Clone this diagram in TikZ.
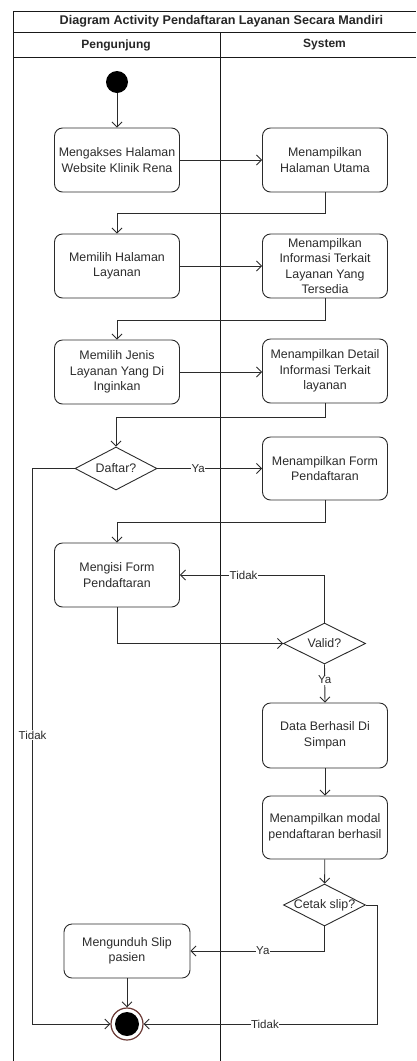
\documentclass[tikz,border=0pt]{standalone}
\usepackage{fontspec}
\setmainfont{Liberation Sans}
\usetikzlibrary{arrows.meta,shapes.geometric,calc}

\definecolor{ink}{HTML}{2B2B2B}
\definecolor{ring}{HTML}{6B3A36}

\begin{document}
\begin{tikzpicture}[x=1pt,y=-1pt,
  every node/.style={text=ink},
  frame/.style={draw=black!90,line width=0.9pt},
  act/.style={draw=ink,line width=0.9pt,rounded corners=8pt,
    minimum width=125pt,minimum height=64pt,inner sep=0pt,align=center,
    font=\fontsize{12.4}{15.5}\selectfont},
  dec/.style={diamond,draw=ink,line width=0.9pt,minimum width=82pt,
    minimum height=43pt,inner sep=0pt},
  dectext/.style={font=\fontsize{12.4}{14}\selectfont,text=ink},
  flow/.style={draw=ink,line width=0.9pt,-{Straight Barb[length=5pt,width=10pt]}},
  elabel/.style={fill=white,inner sep=0.5pt,font=\fontsize{11.5}{13}\selectfont},
  lanehead/.style={font=\bfseries\fontsize{12}{14}\selectfont,text=black!85}]

\useasboundingbox (0,0) rectangle (416,1061);

% swimlane frame
\draw[frame] (13,1061) -- (13,11) -- (416,11);
\draw[frame] (13,32.5) -- (416,32.5);
\draw[frame] (13,57) -- (416,57);
\draw[frame] (220,32.5) -- (220,1061);
\node[lanehead,font=\bfseries\fontsize{12.6}{14}\selectfont] (title) at (221.5,21) {Diagram Activity Pendaftaran Layanan Secara Mandiri};
\node[lanehead] (lane1) at (116,45) {Pengunjung};
\node[lanehead] (lane2) at (324.5,45) {System};

% start and end states
\node[circle,fill=black,minimum size=22pt,inner sep=0pt] (start) at (117,82) {};
\node[circle,draw=ring,line width=1.2pt,fill=white,minimum size=32pt,inner sep=0pt] (fin) at (127,1024) {};
\fill[black] (fin.center) circle (12pt);

% activities: visitor lane
\node[act] (a1) at (117,160) {Mengakses Halaman\\Website Klinik Rena};
\node[act] (a2) at (117,266) {Memilih Halaman\\Layanan};
\node[act] (a3) at (117,372) {Memilih Jenis\\Layanan Yang Di\\Inginkan};
\node[act] (a4) at (117,575) {Mengisi Form\\Pendaftaran};
\node[act,minimum width=126pt,minimum height=54pt] (a5) at (127,951) {Mengunduh Slip\\pasien};

% activities: system lane
\node[act] (s1) at (325,160) {Menampilkan\\Halaman Utama};
\node[act] (s2) at (325,266) {Menampilkan\\Informasi Terkait\\Layanan Yang\\Tersedia};
\node[act] (s3) at (325,371) {Menampilkan Detail\\Informasi Terkait\\layanan};
\node[act,minimum height=63pt] (s4) at (325,468.5) {Menampilkan Form\\Pendaftaran};
\node[act,minimum height=65pt] (s5) at (325,735.5) {Data Berhasil Di\\Simpan};
\node[act,minimum height=63pt] (s6) at (325,827.5) {Menampilkan modal\\pendaftaran berhasil};

% decisions
\node[dec,label={[dectext]center:Daftar?}] (d1) at (116,468.5) {};
\node[dec,minimum height=41pt,label={[dectext]center:Valid?}] (d2) at (324.5,643.5) {};
\node[dec,minimum height=42pt,label={[dectext]center:Cetak slip?}] (d3) at (324.5,905) {};

% control flow
\draw[flow] (start) -- (a1);
\draw[flow] (a1) -- (s1);
\draw[flow] (s1.south) -- ++(0,21) -| (a2.north);
\draw[flow] (a2) -- (s2);
\draw[flow] (s2.south) -- ++(0,22) -| (a3.north);
\draw[flow] (a3.east) -- (s3.west |- a3.east);
\draw[flow] (s3.south) -- ++(0,14) -| (d1.north);
\draw[flow] (d1.east) -- node[elabel,pos=0.39] {Ya} (s4.west);
\draw[flow] (d1.west) -- ++(-42,0) |- node[elabel,pos=0.24] {Tidak} (fin.west);
\draw[flow] (s4.south) -- ++(0,22) -| (a4.north);
\draw[flow] (a4.south) |- (d2.west);
\draw[flow] (d2.north) |- node[elabel,pos=0.78] {Tidak} (a4.east);
\draw[flow] (d2.south) -- node[elabel,pos=0.41] {Ya} (s5.north);
\draw[flow] (s5) -- (s6);
\draw[flow] (s6) -- (d3);
\draw[flow] (d3.south) |- node[elabel,pos=0.73] {Ya} (a5.east);
\draw[flow] (d3.east) -- ++(11,0) |- node[elabel,pos=0.74] {Tidak} (fin.east);
\draw[flow] (a5) -- (fin);

\end{tikzpicture}
\end{document}
